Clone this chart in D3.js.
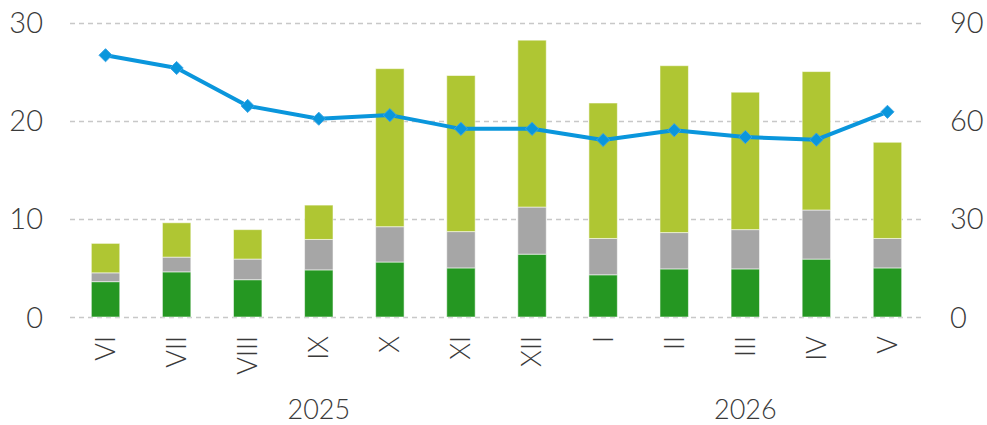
<!DOCTYPE html>
<html>
<head>
<meta charset="utf-8">
<script src="https://cdn.jsdelivr.net/npm/d3@7"></script>
<style>
  html, body { margin: 0; padding: 0; background: #fff; }
  svg text { font-family: "Lato", "Open Sans", sans-serif; font-weight: 300; fill: #3a3a3a; }
</style>
</head>
<body>
<svg id="chart" width="987" height="425"></svg>
<script>
// Monthly categories (Roman numerals) and their year groups
const months = ["VI", "VII", "VIII", "IX", "X", "XI", "XII", "I", "II", "III", "IV", "V"];
const years = [
  { label: "2025", from: "VI", to: "XII" },
  { label: "2026", from: "I", to: "V" }
];

// Stacked bar components (left axis)
const seriesGreen = [3.6, 4.6, 3.8, 4.8, 5.6, 5.0, 6.4, 4.3, 4.9, 4.9, 5.9, 5.0];
const seriesGray  = [0.9, 1.5, 2.1, 3.1, 3.6, 3.7, 4.8, 3.7, 3.7, 4.0, 5.0, 3.0];
const seriesLime  = [3.0, 3.5, 3.0, 3.5, 16.1, 15.9, 17.0, 13.8, 17.0, 14.0, 14.1, 9.8];

// Line series (right axis)
const lineValues = [80.0, 76.1, 64.5, 60.6, 61.7, 57.5, 57.5, 54.1, 57.1, 55.0, 54.2, 62.7];

const leftTicks = [0, 10, 20, 30];
const rightTicks = [0, 30, 60, 90];

const colors = { green: "#259722", gray: "#a6a6a6", lime: "#afc633", line: "#0a96dc" };

const svg = d3.select("#chart");
const margin = { left: 70, right: 64, top: 22.5, bottom: 108 };
const W = 987, H = 425;
const x0 = margin.left, x1 = W - margin.right;
const yTop = margin.top, yBot = H - margin.bottom;

const x = d3.scaleBand().domain(months).range([x0, x1]).paddingInner(0.6).paddingOuter(0.3);
const yL = d3.scaleLinear().domain([0, 30]).range([yBot, yTop]);
const yR = d3.scaleLinear().domain([0, 90]).range([yBot, yTop]);

// Dashed horizontal gridlines
svg.append("g")
  .selectAll("line")
  .data(leftTicks)
  .join("line")
  .attr("x1", x0).attr("x2", x1)
  .attr("y1", d => Math.round(yL(d)) + 0.5)
  .attr("y2", d => Math.round(yL(d)) + 0.5)
  .attr("stroke", "#c8c8c8")
  .attr("stroke-width", 1.5)
  .attr("stroke-dasharray", "5,4");

// Left axis
const axisL = svg.append("g")
  .attr("transform", `translate(${x0 - 27},0)`)
  .call(d3.axisLeft(yL).tickValues(leftTicks).tickSize(0).tickPadding(0));
axisL.select(".domain").remove();
axisL.selectAll("text").attr("font-size", 29).attr("dy", "0.35em");

// Right axis
const axisR = svg.append("g")
  .attr("transform", `translate(${x1 + 27},0)`)
  .call(d3.axisRight(yR).tickValues(rightTicks).tickSize(0).tickPadding(0));
axisR.select(".domain").remove();
axisR.selectAll("text").attr("font-size", 29).attr("dy", "0.35em");

// Stacked bars
const stackData = months.map((m, i) => ({ month: m, green: seriesGreen[i], gray: seriesGray[i], lime: seriesLime[i] }));
const stack = d3.stack().keys(["green", "gray", "lime"])(stackData);

svg.append("g")
  .selectAll("g")
  .data(stack)
  .join("g")
  .attr("fill", d => colors[d.key])
  .selectAll("rect")
  .data(d => d)
  .join("rect")
  .attr("x", d => x(d.data.month))
  .attr("width", x.bandwidth())
  .attr("y", d => yL(d[1]))
  .attr("height", d => yL(d[0]) - yL(d[1]))
  .attr("stroke", "rgba(255,255,255,0.55)")
  .attr("stroke-width", 1);

// Line with diamond markers (right axis)
const cx = m => x(m) + x.bandwidth() / 2;
svg.append("path")
  .datum(lineValues)
  .attr("fill", "none")
  .attr("stroke", colors.line)
  .attr("stroke-width", 4)
  .attr("stroke-linejoin", "round")
  .attr("d", d3.line().x((d, i) => cx(months[i])).y(d => yR(d)));

svg.append("g")
  .selectAll("path")
  .data(lineValues)
  .join("path")
  .attr("transform", (d, i) => `translate(${cx(months[i])},${yR(d)})`)
  .attr("d", d3.symbol().type(d3.symbolDiamond2).size(110))
  .attr("fill", colors.line)
  .attr("stroke", "#3aa6e6")
  .attr("stroke-width", 1);

// Month labels, rotated
svg.append("g")
  .selectAll("text")
  .data(months)
  .join("text")
  .attr("transform", m => `translate(${cx(m)},${yBot + 19}) rotate(-90)`)
  .attr("text-anchor", "end")
  .attr("dy", "0.35em")
  .attr("font-size", 27)
  .text(m => m);

// Year labels centred under their months
svg.append("g")
  .selectAll("text")
  .data(years)
  .join("text")
  .attr("x", d => (cx(d.from) + cx(d.to)) / 2)
  .attr("y", H - 6)
  .attr("text-anchor", "middle")
  .attr("font-size", 27)
  .text(d => d.label);
</script>
</body>
</html>
